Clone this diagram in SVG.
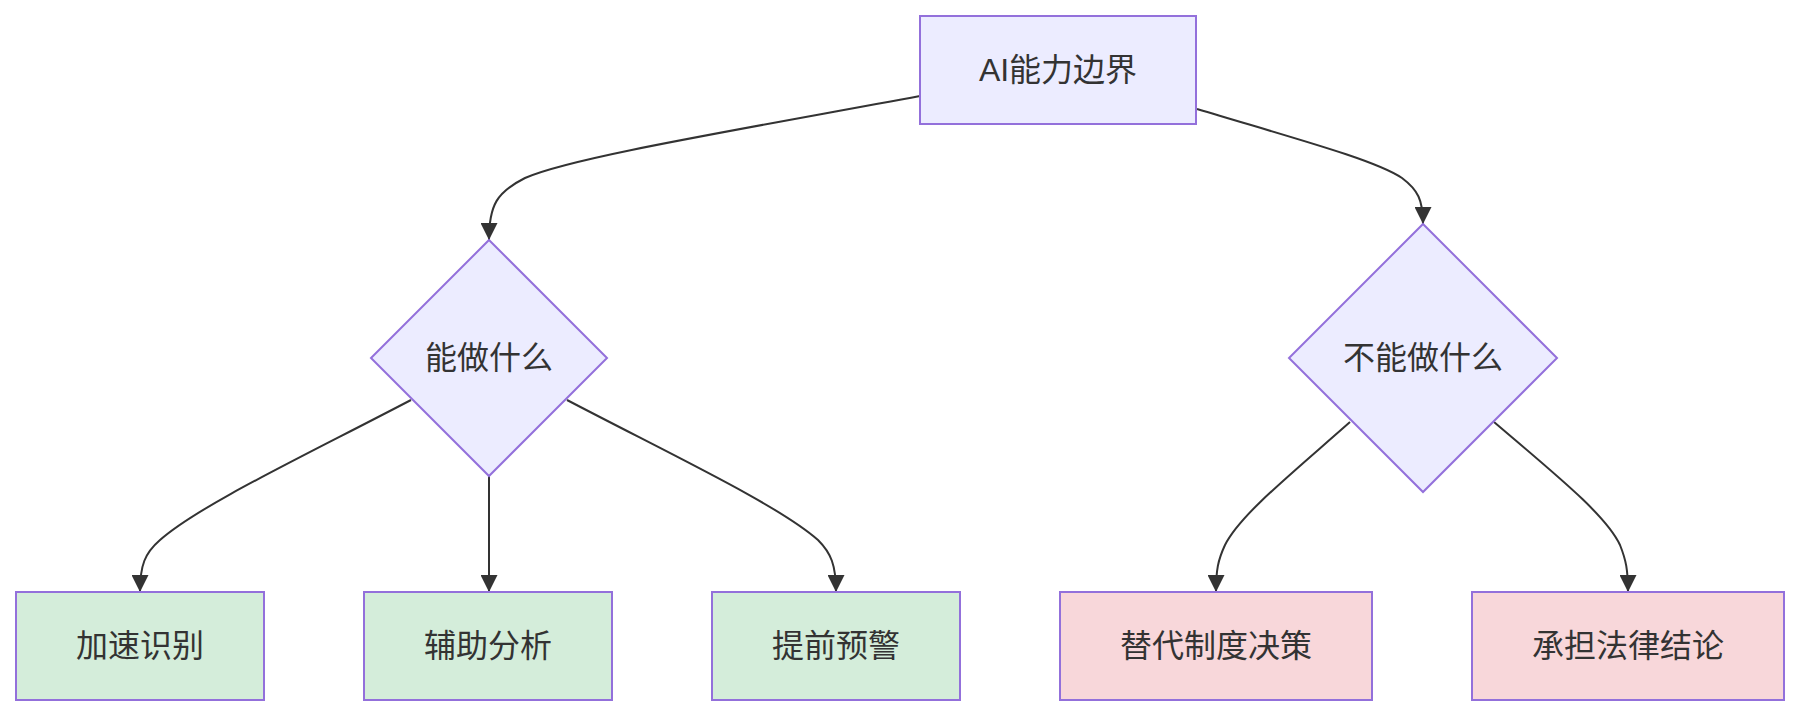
<svg xmlns="http://www.w3.org/2000/svg" width="1800" height="716" viewBox="0 0 1800 716">
<style>
.n{fill:#ECECFF;stroke:#9370DB;stroke-width:2}
.g{fill:#d4edda;stroke:#9370DB;stroke-width:2}
.p{fill:#f8d7da;stroke:#9370DB;stroke-width:2}
.t{font-family:"Liberation Sans","Noto Sans CJK SC",sans-serif;font-size:32px;fill:#333;text-anchor:middle;dominant-baseline:central}
.e{fill:none;stroke:#333;stroke-width:2}
</style>
<defs>
<marker id="arr" viewBox="0 0 10 10" refX="10" refY="5" markerUnits="userSpaceOnUse" markerWidth="17" markerHeight="17" orient="auto">
<path d="M0,0 L10,5 L0,10 z" fill="#333"/>
</marker>
</defs>
<rect width="1800" height="716" fill="#fff"/>
<g id="edges">
<path class="e" marker-end="url(#arr)" d="M920,96 C720,133 570,158 525,178 C497,192 489,205 489,240"/>
<path class="e" marker-end="url(#arr)" d="M1197,109 C1300,140 1375,160 1402,178 C1418,190 1423,200 1423,224"/>
<path class="e" marker-end="url(#arr)" d="M411,400 C300,458 200,505 160,540 C145,553 140,565 140,592"/>
<path class="e" marker-end="url(#arr)" d="M489,476 L489,592"/>
<path class="e" marker-end="url(#arr)" d="M567,400 C678,458 778,505 818,540 C831,553 836,565 836,592"/>
<path class="e" marker-end="url(#arr)" d="M1350,422 C1290,475 1240,515 1225,545 C1218,560 1216,570 1216,592"/>
<path class="e" marker-end="url(#arr)" d="M1494,422 C1556,475 1606,515 1620,545 C1626,560 1628,570 1628,592"/>
</g>
<g id="top">
<rect class="n" x="920" y="16" width="276" height="108"/>
<text class="t" x="1058" y="70">AI能力边界</text>
</g>
<g id="can">
<polygon class="n" points="489,240 607,358 489,476 371,358"/>
<text class="t" x="489" y="358">能做什么</text>
</g>
<g id="cannot">
<polygon class="n" points="1423,224 1557,358 1423,492 1289,358"/>
<text class="t" x="1423" y="358">不能做什么</text>
</g>
<g id="b1">
<rect class="g" x="16" y="592" width="248" height="108"/>
<text class="t" x="140" y="646">加速识别</text>
</g>
<g id="b2">
<rect class="g" x="364" y="592" width="248" height="108"/>
<text class="t" x="488" y="646">辅助分析</text>
</g>
<g id="b3">
<rect class="g" x="712" y="592" width="248" height="108"/>
<text class="t" x="836" y="646">提前预警</text>
</g>
<g id="b4">
<rect class="p" x="1060" y="592" width="312" height="108"/>
<text class="t" x="1216" y="646">替代制度决策</text>
</g>
<g id="b5">
<rect class="p" x="1472" y="592" width="312" height="108"/>
<text class="t" x="1628" y="646">承担法律结论</text>
</g>
</svg>
